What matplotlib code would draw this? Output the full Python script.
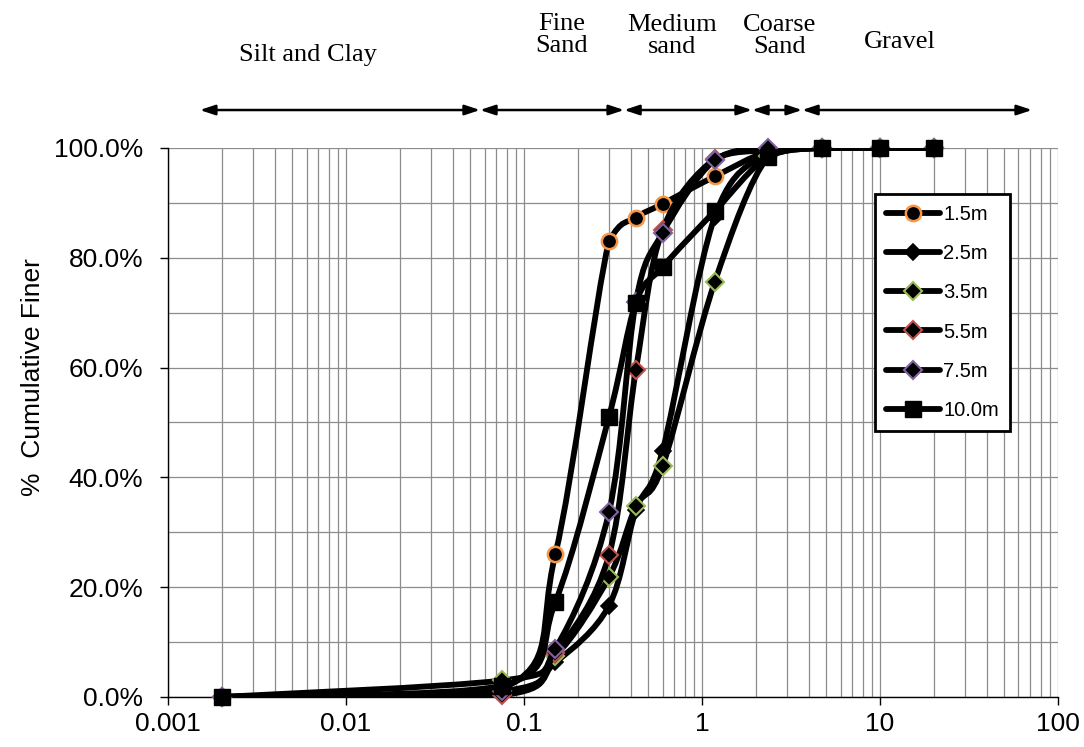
import numpy as np
import matplotlib.pyplot as plt
from matplotlib.path import Path
from matplotlib.patches import PathPatch
from matplotlib.lines import Line2D
from matplotlib.ticker import FixedLocator, MultipleLocator, PercentFormatter, FuncFormatter, NullFormatter

# sieve sizes (mm) and % finer for each depth
sieve = [0.002, 0.075, 0.15, 0.3, 0.425, 0.6, 1.18, 2.36, 4.75, 10, 20]
finer_15 = [0.0, 1.5, 26.0, 83.0, 87.3, 89.8, 94.8, 99.3, 100, 100, 100]
finer_25 = [0.0, 1.0, 6.3, 16.6, 34.0, 44.8, 87.5, 99.0, 100, 100, 100]
finer_35 = [0.0, 3.0, 7.5, 21.8, 34.7, 42.0, 75.6, 98.5, 100, 100, 100]
finer_55 = [0.0, 0.3, 8.0, 25.8, 59.5, 85.0, 98.0, 99.6, 100, 100, 100]
finer_75 = [0.0, 1.0, 8.8, 33.6, 72.0, 84.5, 97.8, 100, 100, 100, 100]
finer_100 = [0.0, 2.0, 17.3, 51.0, 71.8, 78.3, 88.5, 98.4, 100, 100, 100]

labels = ['1.5m', '2.5m', '3.5m', '5.5m', '7.5m', '10.0m']
all_finer = [finer_15, finer_25, finer_35, finer_55, finer_75, finer_100]

# soil classes over the top of the plot
zone_edges = [0.00151, 0.0566, 0.365, 1.91, 3.65, 71.5]
zone_names = ['Silt and Clay', 'Fine\nSand', 'Medium\nsand', 'Coarse\nSand', 'Gravel']
zone_text_x = [0.00612, 0.163, 0.678, 2.74, 12.9]
zone_text_y = [1.169, 1.206, 1.204, 1.204, 1.193]

styles = [
    dict(marker='o', ms=11, mfc='black', mec='#F79646', mew=1.8),
    dict(marker='D', ms=8, mfc='black', mec='black', mew=1.2),
    dict(marker='D', ms=9, mfc='black', mec='#9BBB59', mew=1.5),
    dict(marker='D', ms=9, mfc='black', mec='#C0504D', mew=1.5),
    dict(marker='D', ms=9, mfc='black', mec='#8064A2', mew=1.5),
    dict(marker='s', ms=12, mfc='black', mec='black', mew=1),
]


def smooth_path(xs, ys):
    # excel-like smoothed line: bezier segments built in log-x space
    u = np.log10(np.asarray(xs, float))
    v = np.asarray(ys, float)
    p = np.column_stack([u, v])
    n = len(p)
    verts = [p[0]]
    codes = [Path.MOVETO]
    for i in range(n - 1):
        p0 = p[i - 1] if i > 0 else p[i]
        p3 = p[i + 2] if i + 2 < n else p[i + 1]
        c1 = p[i] + (p[i + 1] - p0) / 6.0
        c2 = p[i + 1] - (p3 - p[i]) / 6.0
        lo, hi = min(p[i][1], p[i + 1][1]), max(p[i][1], p[i + 1][1])
        c1[1] = np.clip(c1[1], lo, hi)
        c2[1] = np.clip(c2[1], lo, hi)
        verts += [c1, c2, p[i + 1]]
        codes += [Path.CURVE4] * 3
    verts = np.array(verts)
    verts[:, 0] = 10 ** verts[:, 0]
    return Path(verts, codes)


plt.rcParams['font.family'] = ['Liberation Sans', 'DejaVu Sans']

fig = plt.figure(figsize=(10.84, 7.47), dpi=100)
ax = fig.add_axes([0.155, 0.067, 0.821, 0.735])

handles = []
for k, (lab, f) in enumerate(zip(labels, all_finer)):
    y = np.array(f) / 100.0
    patch = PathPatch(smooth_path(sieve, y), facecolor='none', edgecolor='black',
                      lw=4.2, capstyle='round', joinstyle='round', zorder=3 + 2 * k)
    ax.add_patch(patch)
    ax.plot(sieve, y, linestyle='none', zorder=4 + 2 * k, clip_on=False, **styles[k])
    handles.append(Line2D([], [], color='black', lw=4.2, solid_capstyle='round',
                          label=lab, **styles[k]))

ax.set_xscale('log')
ax.set_xlim(0.001, 100)
ax.set_ylim(0, 1.0)

ax.xaxis.set_major_locator(FixedLocator([0.001, 0.01, 0.1, 1, 10, 100]))
ax.xaxis.set_major_formatter(FuncFormatter(lambda v, pos: '%g' % v))
ax.xaxis.set_minor_formatter(NullFormatter())
ax.yaxis.set_major_locator(MultipleLocator(0.2))
ax.yaxis.set_minor_locator(MultipleLocator(0.1))
ax.yaxis.set_major_formatter(PercentFormatter(1.0, decimals=1))

ax.grid(which='both', color='#8c8c8c', lw=0.9)
ax.set_axisbelow(True)
for s in ['top', 'right']:
    ax.spines[s].set_visible(False)
ax.spines['left'].set_linewidth(1.0)
ax.spines['bottom'].set_linewidth(1.0)
ax.tick_params(which='major', direction='out', length=6, width=1, labelsize=19)
ax.tick_params(which='minor', length=0)
ax.tick_params(axis='x', pad=5)
ax.tick_params(axis='y', pad=12)

ax.set_ylabel('%  Cumulative Finer', fontsize=19)
ax.yaxis.set_label_coords(-0.138, 0.583)

leg = ax.legend(handles=handles, loc='upper left', bbox_to_anchor=(0.794, 0.916),
                fontsize=14.5, handlelength=2.7, labelspacing=1.0, handletextpad=0.15,
                borderpad=0.55, borderaxespad=0, fancybox=False, framealpha=1,
                edgecolor='black')
leg.get_frame().set_linewidth(2)
leg.set_zorder(20)

for a, b in zip(zone_edges[:-1], zone_edges[1:]):
    ax.annotate('', xy=(b, 1.069), xytext=(a, 1.069), xycoords=('data', 'axes fraction'),
                textcoords=('data', 'axes fraction'), annotation_clip=False,
                arrowprops=dict(arrowstyle='<|-|>,head_length=0.9,head_width=0.3',
                                color='black', lw=1.8, shrinkA=0, shrinkB=0))
for name, tx, ty in zip(zone_names, zone_text_x, zone_text_y):
    ax.text(tx, ty, name, transform=ax.get_xaxis_transform(), ha='center', va='center',
            fontsize=19, family=['Liberation Serif', 'DejaVu Serif'], linespacing=1.0)

fig.savefig('out.png', dpi=100)
